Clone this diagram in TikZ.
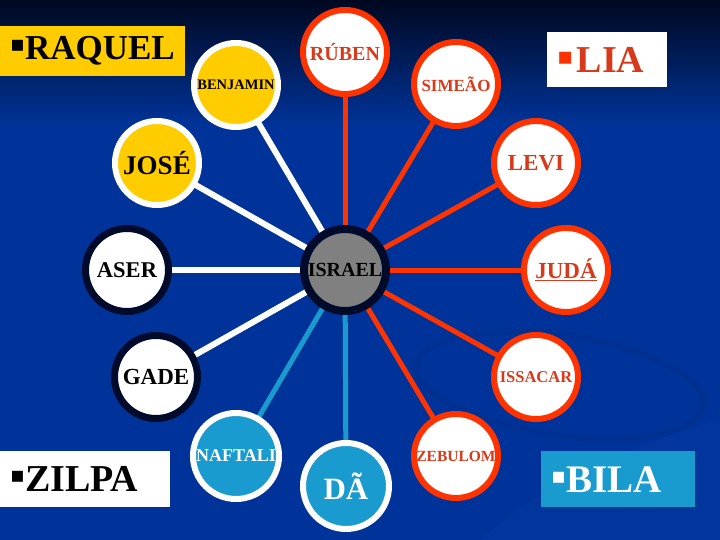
\documentclass[tikz,border=0pt]{standalone}
\usepackage{fontspec}
\setmainfont{Liberation Serif}
\newfontfamily\symfont{DejaVu Sans}
\newcommand\fsz[1]{\fontsize{#1}{#1}\selectfont}
\newcommand\sqbullet[2]{\raisebox{#2}{\symfont\fsz{#1}▪}}
\definecolor{bgblue}{HTML}{003399}
\definecolor{bgtop}{HTML}{000820}
\definecolor{swoosh}{HTML}{002B85}
\definecolor{swooshlight}{HTML}{0A3DA3}
\definecolor{lred}{HTML}{FF3300}
\definecolor{tred}{HTML}{D63A1A}
\definecolor{gold}{HTML}{FFCC00}
\definecolor{sky}{HTML}{1A9BCF}
\definecolor{navy}{HTML}{000A2A}
\definecolor{hubgray}{HTML}{808080}
\pgfdeclarelayer{bg}
\pgfdeclarelayer{links}
\pgfsetlayers{bg,links,main}
\tikzset{
  rednode/.style={circle, inner sep=0pt, draw=lred, line width=6pt, fill=white, text=tred, minimum size=84pt, font=\bfseries},
  goldnode/.style={circle, inner sep=0pt, draw=white, line width=6pt, fill=gold, text=black, minimum size=84pt, font=\bfseries},
  whitenode/.style={circle, inner sep=0pt, draw=navy, line width=7pt, fill=white, text=black, minimum size=83pt, font=\bfseries},
  skynode/.style={circle, inner sep=0pt, draw=white, line width=6pt, fill=sky, text=white, minimum size=86pt, font=\bfseries},
  hubnode/.style={circle, inner sep=0pt, draw=navy, line width=8pt, fill=hubgray, text=black, minimum size=82pt, font=\bfseries},
  tribebox/.style={rectangle, anchor=north west, inner xsep=10pt, inner ysep=0pt, align=left, font=\bfseries},
  whitelink/.style={draw=white, line width=6pt},
  redlink/.style={draw=lred, line width=5pt},
  skylink/.style={draw=sky, line width=5pt},
}
\begin{document}
\begin{tikzpicture}[x=1pt,y=-1pt]
\useasboundingbox (0,0) rectangle (720,540);
\begin{pgfonlayer}{bg}
  \fill[bgblue] (0,0) rectangle (720,540);
  \shade[top color=bgtop, bottom color=bgblue] (0,0) rectangle (720,125);
  \fill[swooshlight, opacity=0.35] (480,540) .. controls (560,470) and (650,440) .. (720,420) -- (720,540) -- cycle;
  \draw[swoosh, line width=7pt, opacity=0.35, rotate around={-8:(560,385)}] (560,385) ellipse [x radius=145, y radius=50];
\end{pgfonlayer}

% hub
\node[hubnode] (israel) at (345,270) {\fsz{20}ISRAEL};

% Lia's sons
\node[rednode] (ruben)   at (345,52)  {\fsz{20}RÚBEN};
\node[rednode] (simeao)  at (456,84)  {\fsz{17}SIMEÃO};
\node[rednode] (levi)    at (536,163) {\fsz{23}LEVI};
\node[rednode] (juda)    at (566,270) {\fsz{23}\underline{JUDÁ}};
\node[rednode] (issacar) at (536,377) {\fsz{16.5}ISSACAR};
\node[rednode] (zebulom) at (456,456) {\fsz{15.5}ZEBULOM};

% Raquel's sons
\node[goldnode] (benjamin) at (236,85)  {\fsz{14.5}BENJAMIN};
\node[goldnode] (jose)     at (157,163) {\fsz{27}JOSÉ};

% Zilpa's sons
\node[whitenode] (aser) at (127,270) {\fsz{22.5}ASER};
\node[whitenode] (gade) at (156,377) {\fsz{23}GADE};

% Bila's sons
\node[skynode] (naftali) at (236,456) {\fsz{18}NAFTALI};
\node[skynode] (da)      at (346,486) {\fsz{31}DÃ};

\begin{pgfonlayer}{links}
  \draw[whitelink] (israel.center) -- (benjamin.center);
  \draw[whitelink] (israel.center) -- (jose.center);
  \draw[whitelink] (israel.center) -- (aser.center);
  \draw[whitelink] (israel.center) -- (gade.center);
  \draw[redlink] (israel.center) -- (ruben.center);
  \draw[redlink] (israel.center) -- (simeao.center);
  \draw[redlink] (israel.center) -- (levi.center);
  \draw[redlink] (israel.center) -- (juda.center);
  \draw[redlink] (israel.center) -- (issacar.center);
  \draw[redlink] (israel.center) -- (zebulom.center);
  \draw[skylink] (israel.center) -- (naftali.center);
  \draw[skylink] (israel.center) -- (da.center);
\end{pgfonlayer}

% mothers
\node[tribebox, fill=gold, text=black, minimum width=185pt, minimum height=50pt, text width=165pt] (raquel) at (0,26)
  {\fsz{35}\sqbullet{22}{8pt}RAQUEL};
\node[tribebox, fill=white, text=tred, minimum width=120pt, minimum height=55pt, text width=100pt] (lia) at (547,32)
  {\fsz{38}\textcolor{lred}{\sqbullet{24}{8pt}} LIA};
\node[tribebox, fill=white, text=black, minimum width=170pt, minimum height=56pt, text width=150pt] (zilpa) at (0,451)
  {\fsz{38}\sqbullet{22}{9pt}ZILPA};
\node[tribebox, fill=sky, text=white, minimum width=154pt, minimum height=56pt, text width=134pt] (bila) at (541,451)
  {\fsz{39}\sqbullet{22}{9pt}BILA};
\end{tikzpicture}
\end{document}
